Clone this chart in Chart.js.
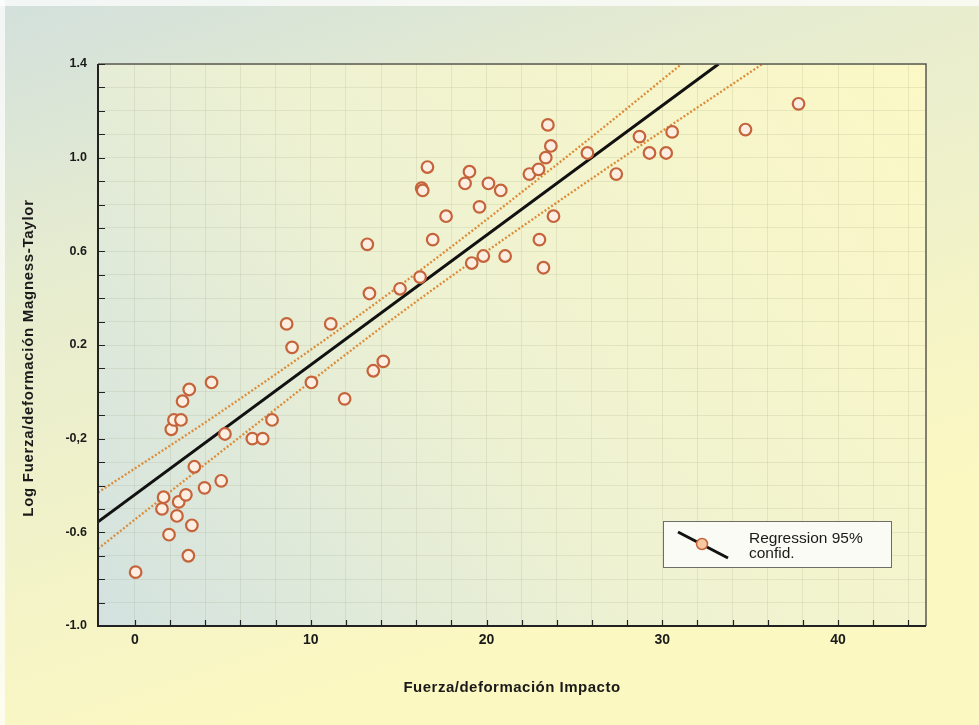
<!DOCTYPE html>
<html>
<head>
<meta charset="utf-8">
<script src="https://cdn.jsdelivr.net/npm/chart.js@4.4.1/dist/chart.umd.min.js"></script>
<style>
  html, body { margin: 0; padding: 0; background: #fff; }
  #wrap { width: 979px; height: 725px; }
</style>
</head>
<body>
<div id="wrap"><canvas id="chart-1" width="979" height="725"></canvas></div>
<script>
// measured points (impact force/deformation vs log Magness-Taylor)
const impact = [0.04, 1.94, 1.54, 1.63, 2.39, 2.49, 2.90, 3.04, 3.24, 3.38, 3.96, 4.91, 5.12,
  2.07, 2.22, 2.62, 2.71, 3.09, 4.36, 6.68, 7.27, 7.80, 8.63, 8.94, 11.14, 10.04, 11.93,
  13.56, 14.13, 13.22, 13.34, 15.08, 16.22, 16.31, 16.37, 16.64, 16.94, 17.70, 19.03,
  18.78, 20.11, 20.81, 19.60, 19.16, 19.82, 21.06, 22.44, 22.96, 23.37, 23.66, 23.49,
  23.81, 23.01, 23.24, 25.74, 27.38, 28.70, 29.27, 30.22, 30.56, 34.73, 37.75];
const logMT = [-0.77, -0.61, -0.50, -0.45, -0.53, -0.47, -0.44, -0.70, -0.57, -0.32, -0.41, -0.38, -0.18,
  -0.16, -0.12, -0.12, -0.04, 0.01, 0.04, -0.20, -0.20, -0.12, 0.29, 0.19, 0.29, 0.04, -0.03,
  0.09, 0.13, 0.63, 0.42, 0.44, 0.49, 0.87, 0.86, 0.96, 0.65, 0.75, 0.94,
  0.89, 0.89, 0.86, 0.79, 0.55, 0.58, 0.58, 0.93, 0.95, 1.00, 1.05, 1.14,
  0.75, 0.65, 0.53, 1.02, 0.93, 1.09, 1.02, 1.02, 1.11, 1.12, 1.23];

// regression line and 95% band
const regX = [-2.1, 33.2];
const regY = [-0.555, 1.40];
const upperX = [-2.1, 5, 15, 25, 31.1];
const upperY = [-0.43, -0.08, 0.45, 1.03, 1.40];
const lowerX = [-2.1, 5, 15, 25, 35.7];
const lowerY = [-0.67, -0.25, 0.33, 0.86, 1.40];

const xTickLabels = ['0', '10', '20', '30', '40'];
const yTickLabels = ['1.4', '1.0', '0.6', '0.2', '-0,2', '-0.6', '-1.0'];

const xTitle = 'Fuerza/deformación Impacto';
const yTitle = 'Log Fuerza/deformación Magness-Taylor';
const legendText = ['Regression 95%', 'confid.'];

const FONT = "'Liberation Sans', Arial, Helvetica, sans-serif";
const dotColor = '#c5633a';
const dotFill = '#fcefe2';
const bandColor = '#dc8c38';

function pairs(xs, ys) {
    return xs.map((x, i) => ({x: x, y: ys[i]}));
}

const ctx = document.getElementById('chart-1').getContext('2d');

const decor = {
    id: 'decor',
    beforeDraw(chart) {
        const c = chart.ctx;
        const a = chart.chartArea;
        const W = chart.width, H = chart.height;
        c.save();
        var page = c.createLinearGradient(0, 0, W * 0.25, H);
        page.addColorStop(0, '#d2e0dc');
        page.addColorStop(0.35, '#e6ecd0');
        page.addColorStop(1, '#fcf8c2');
        c.fillStyle = page;
        c.fillRect(0, 0, W, H);
        // faint white scan border
        c.fillStyle = 'rgba(255,255,255,0.7)';
        c.fillRect(0, 0, W, 6);
        c.fillRect(0, 0, 5, H);

        var plot = c.createLinearGradient(a.left, a.bottom, a.right, a.top);
        plot.addColorStop(0, '#d3e2e0');
        plot.addColorStop(0.45, '#eef2d2');
        plot.addColorStop(1, '#fcf8c6');
        c.fillStyle = plot;
        c.fillRect(a.left, a.top, a.right - a.left, a.bottom - a.top);
        c.restore();
    },
    afterDraw(chart) {
        const c = chart.ctx;
        const a = chart.chartArea;
        const xs = chart.scales.x, ys = chart.scales.y;
        c.save();
        // frame
        c.lineWidth = 1.5;
        c.strokeStyle = '#5a5a50';
        c.beginPath();
        c.moveTo(a.left, a.top); c.lineTo(a.right, a.top); c.lineTo(a.right, a.bottom);
        c.stroke();
        c.strokeStyle = '#222';
        c.lineWidth = 2;
        c.beginPath();
        c.moveTo(a.left, a.top); c.lineTo(a.left, a.bottom); c.lineTo(a.right, a.bottom);
        c.stroke();

        // inward tick marks
        c.lineWidth = 1.2;
        c.strokeStyle = '#222';
        c.beginPath();
        xs.ticks.forEach(t => {
            if (t.value < 0) return;
            const px = Math.round(xs.getPixelForValue(t.value)) + 0.5;
            c.moveTo(px, a.bottom); c.lineTo(px, a.bottom - 6);
        });
        ys.ticks.forEach(t => {
            const py = Math.round(ys.getPixelForValue(t.value)) + 0.5;
            c.moveTo(a.left, py); c.lineTo(a.left + 7, py);
        });
        c.stroke();

        // axis titles
        c.fillStyle = '#1a1a1a';
        c.font = 'bold 15px ' + FONT;
        c.textAlign = 'center';
        c.textBaseline = 'middle';
        c.letterSpacing = '0.5px';
        c.fillText(xTitle, (a.left + a.right) / 2, 688);
        c.translate(29, 358);
        c.rotate(-Math.PI / 2);
        c.letterSpacing = '0.7px';
        c.fillText(yTitle, 0, 0);
        c.restore();

        // legend box
        c.save();
        const lx = 663, ly = 521, lw = 228, lh = 46;
        c.fillStyle = '#fbfbf6';
        c.fillRect(lx, ly, lw, lh);
        c.strokeStyle = '#6e6e66';
        c.lineWidth = 1;
        c.strokeRect(lx + 0.5, ly + 0.5, lw, lh);
        c.strokeStyle = '#111';
        c.lineWidth = 3;
        c.beginPath();
        c.moveTo(678, 532); c.lineTo(728, 558);
        c.stroke();
        c.beginPath();
        c.arc(702, 544, 5.5, 0, Math.PI * 2);
        c.fillStyle = '#f6c9a2';
        c.fill();
        c.lineWidth = 1.5;
        c.strokeStyle = dotColor;
        c.stroke();
        c.fillStyle = '#1a1a1a';
        c.font = '15.5px ' + FONT;
        c.textAlign = 'left';
        c.textBaseline = 'alphabetic';
        c.fillText(legendText[0], 749, 543);
        c.fillText(legendText[1], 749, 558);
        c.restore();
    }
};

var data = {
    datasets: [
        {
            label: 'data',
            data: pairs(impact, logMT),
            pointRadius: 5.8,
            pointHoverRadius: 5.8,
            pointBorderWidth: 2.2,
            pointBorderColor: dotColor,
            pointBackgroundColor: dotFill,
            showLine: false,
            order: 0
        },
        {
            label: 'upper',
            type: 'line',
            data: pairs(upperX, upperY),
            borderColor: bandColor,
            borderWidth: 2.3,
            borderDash: [2, 2],
            pointRadius: 0,
            cubicInterpolationMode: 'monotone',
            clip: 0,
            order: 2
        },
        {
            label: 'lower',
            type: 'line',
            data: pairs(lowerX, lowerY),
            borderColor: bandColor,
            borderWidth: 2.3,
            borderDash: [2, 2],
            pointRadius: 0,
            cubicInterpolationMode: 'monotone',
            clip: 0,
            order: 2
        },
        {
            label: 'regression',
            type: 'line',
            data: pairs(regX, regY),
            borderColor: '#111',
            borderWidth: 3,
            pointRadius: 0,
            clip: 0,
            order: 1
        }
    ]
};

var myChart = new Chart(ctx, {
    type: 'scatter',
    data: data,
    plugins: [decor],
    options: {
        responsive: false,
        animation: false,
        events: [],
        layout: {
            padding: {left: 0, top: 64, right: 53, bottom: 0}
        },
        plugins: {
            legend: {display: false},
            tooltip: {enabled: false}
        },
        scales: {
            x: {
                type: 'linear',
                min: -2.1,
                max: 45,
                afterFit(scale) { scale.height = 99; },
                afterBuildTicks(scale) {
                    const t = [];
                    for (let v = 0; v <= 44; v += 2) t.push({value: v});
                    scale.ticks = t;
                },
                grid: {
                    color: 'rgba(140,150,110,0.16)',
                    drawTicks: false
                },
                border: {display: false},
                ticks: {
                    padding: 6,
                    autoSkip: false,
                    maxRotation: 0,
                    color: '#1a1a1a',
                    font: {family: FONT, size: 14, weight: 'bold'},
                    callback(v) {
                        return v % 10 === 0 ? xTickLabels[v / 10] : '';
                    }
                }
            },
            y: {
                type: 'linear',
                min: -1.0,
                max: 1.4,
                afterFit(scale) { scale.width = 98; },
                afterBuildTicks(scale) {
                    const t = [];
                    for (let k = -10; k <= 14; k++) t.push({value: k / 10});
                    scale.ticks = t;
                },
                grid: {
                    color: 'rgba(140,150,110,0.16)',
                    drawTicks: false
                },
                border: {display: false},
                ticks: {
                    padding: 11,
                    autoSkip: false,
                    color: '#1a1a1a',
                    font: {family: FONT, size: 12.5, weight: 'bold'},
                    callback(v) {
                        const k = Math.round(v * 10);
                        if ((14 - k) % 4 !== 0) return '';
                        return yTickLabels[(14 - k) / 4];
                    }
                }
            }
        }
    }
});
</script>
</body>
</html>
